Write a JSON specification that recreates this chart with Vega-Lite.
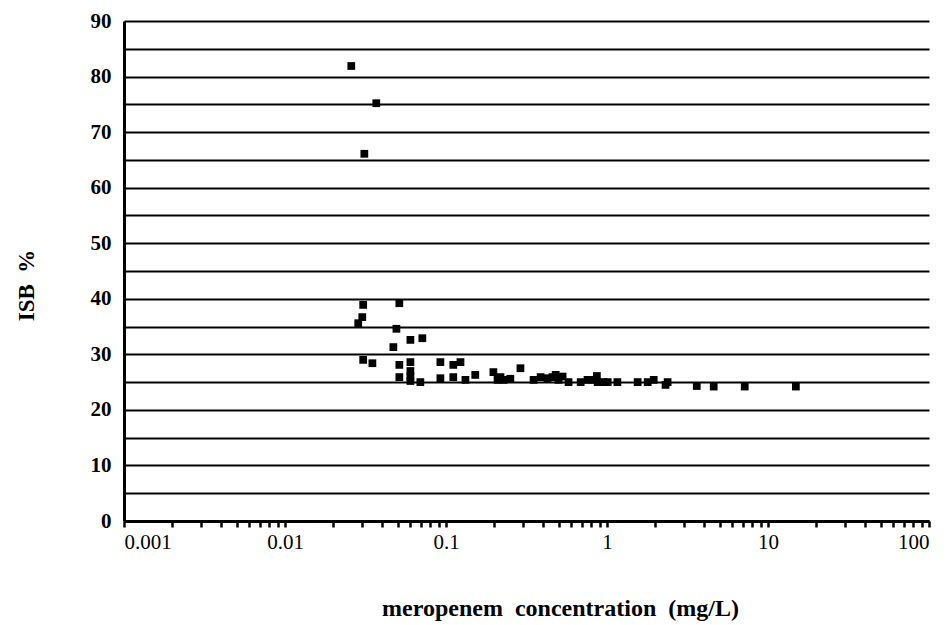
{
  "$schema": "https://vega.github.io/schema/vega-lite/v6.json",
  "width": 805,
  "height": 500,
  "autosize": {"type": "none"},
  "padding": {"left": 124, "top": 21, "right": 19, "bottom": 104},
  "background": "white",
  "config": {"view": {"stroke": null}, "font": "Liberation Serif"},
  "data": {"values": [
    {"conc": 0.0258, "isb": 81.9},
    {"conc": 0.0369, "isb": 75.2},
    {"conc": 0.0311, "isb": 66.1},
    {"conc": 0.0306, "isb": 38.9},
    {"conc": 0.0302, "isb": 36.7},
    {"conc": 0.0285, "isb": 35.6},
    {"conc": 0.0513, "isb": 39.2},
    {"conc": 0.0492, "isb": 34.6},
    {"conc": 0.0601, "isb": 32.6},
    {"conc": 0.0713, "isb": 32.9},
    {"conc": 0.0471, "isb": 31.3},
    {"conc": 0.0306, "isb": 29.0},
    {"conc": 0.0349, "isb": 28.4},
    {"conc": 0.0513, "isb": 28.1},
    {"conc": 0.0601, "isb": 28.6},
    {"conc": 0.0513, "isb": 25.9},
    {"conc": 0.0601, "isb": 27.0},
    {"conc": 0.0601, "isb": 26.0},
    {"conc": 0.0601, "isb": 25.2},
    {"conc": 0.0693, "isb": 25.0},
    {"conc": 0.0923, "isb": 28.6},
    {"conc": 0.111, "isb": 28.1},
    {"conc": 0.123, "isb": 28.6},
    {"conc": 0.0923, "isb": 25.7},
    {"conc": 0.111, "isb": 25.9},
    {"conc": 0.132, "isb": 25.4},
    {"conc": 0.152, "isb": 26.3},
    {"conc": 0.197, "isb": 26.8},
    {"conc": 0.209, "isb": 25.4},
    {"conc": 0.218, "isb": 25.9},
    {"conc": 0.228, "isb": 25.4},
    {"conc": 0.251, "isb": 25.6},
    {"conc": 0.290, "isb": 27.5},
    {"conc": 0.350, "isb": 25.4},
    {"conc": 0.387, "isb": 25.9},
    {"conc": 0.427, "isb": 25.7},
    {"conc": 0.459, "isb": 25.9},
    {"conc": 0.480, "isb": 26.3},
    {"conc": 0.500, "isb": 25.4},
    {"conc": 0.530, "isb": 26.0},
    {"conc": 0.577, "isb": 25.0},
    {"conc": 0.686, "isb": 25.0},
    {"conc": 0.757, "isb": 25.4},
    {"conc": 0.826, "isb": 25.4},
    {"conc": 0.865, "isb": 26.1},
    {"conc": 0.875, "isb": 25.0},
    {"conc": 0.953, "isb": 25.0},
    {"conc": 1.01, "isb": 25.0},
    {"conc": 1.16, "isb": 25.0},
    {"conc": 1.55, "isb": 25.0},
    {"conc": 1.79, "isb": 25.0},
    {"conc": 1.95, "isb": 25.4},
    {"conc": 2.31, "isb": 24.5},
    {"conc": 2.38, "isb": 25.0},
    {"conc": 3.61, "isb": 24.3},
    {"conc": 4.60, "isb": 24.2},
    {"conc": 7.17, "isb": 24.2},
    {"conc": 14.9, "isb": 24.2}
  ]},
  "mark": {"type": "square", "filled": true, "color": "black", "size": 60, "opacity": 1},
  "encoding": {
    "x": {
      "field": "conc", "type": "quantitative",
      "scale": {"type": "log", "domain": [0.001, 100], "nice": false},
      "axis": {
        "title": "meropenem\u00a0\u00a0concentration\u00a0\u00a0(mg/L)",
        "titleFont": "Liberation Serif", "titleFontSize": 24, "titleFontWeight": "bold", "titleColor": "black",
        "titlePadding": 44,
        "titleX": 436, "titleAlign": "center",
        "values": [0.001,0.002,0.003,0.004,0.005,0.006,0.007,0.008,0.009,0.01,0.02,0.03,0.04,0.05,0.06,0.07,0.08,0.09,0.1,0.2,0.3,0.4,0.5,0.6,0.7,0.8,0.9,1,2,3,4,5,6,7,8,9,10,20,30,40,50,60,70,80,90,100],
        "labelExpr": "indexof(['0.001','0.01','0.1','1','10','100'], format(datum.value, '~g')) >= 0 ? format(datum.value, '~g') : ''",
        "labelFont": "Liberation Serif", "labelFontSize": 21, "labelColor": "black", "labelPadding": 4,
        "labelOverlap": false,
        "grid": false,
        "domainColor": "black", "domainWidth": 3,
        "tickColor": "black", "tickWidth": 2.5, "tickSize": 6
      }
    },
    "y": {
      "field": "isb", "type": "quantitative",
      "scale": {"domain": [0, 90], "nice": false},
      "axis": {
        "title": "ISB\u00a0 %",
        "titleFont": "Liberation Serif", "titleFontSize": 23, "titleFontWeight": "bold", "titleColor": "black",
        "titlePadding": 52,
        "titleY": 264, "titleAlign": "center",
        "values": [0,5,10,15,20,25,30,35,40,45,50,55,60,65,70,75,80,85,90],
        "labelExpr": "datum.value % 10 == 0 ? datum.label : ''",
        "labelFont": "Liberation Serif", "labelFontSize": 21, "labelFontWeight": "bold", "labelColor": "black",
        "labelPadding": 13,
        "ticks": false,
        "grid": true, "gridColor": "black", "gridWidth": 2.2, "gridOpacity": 1,
        "domainColor": "black", "domainWidth": 3
      }
    }
  }
}
